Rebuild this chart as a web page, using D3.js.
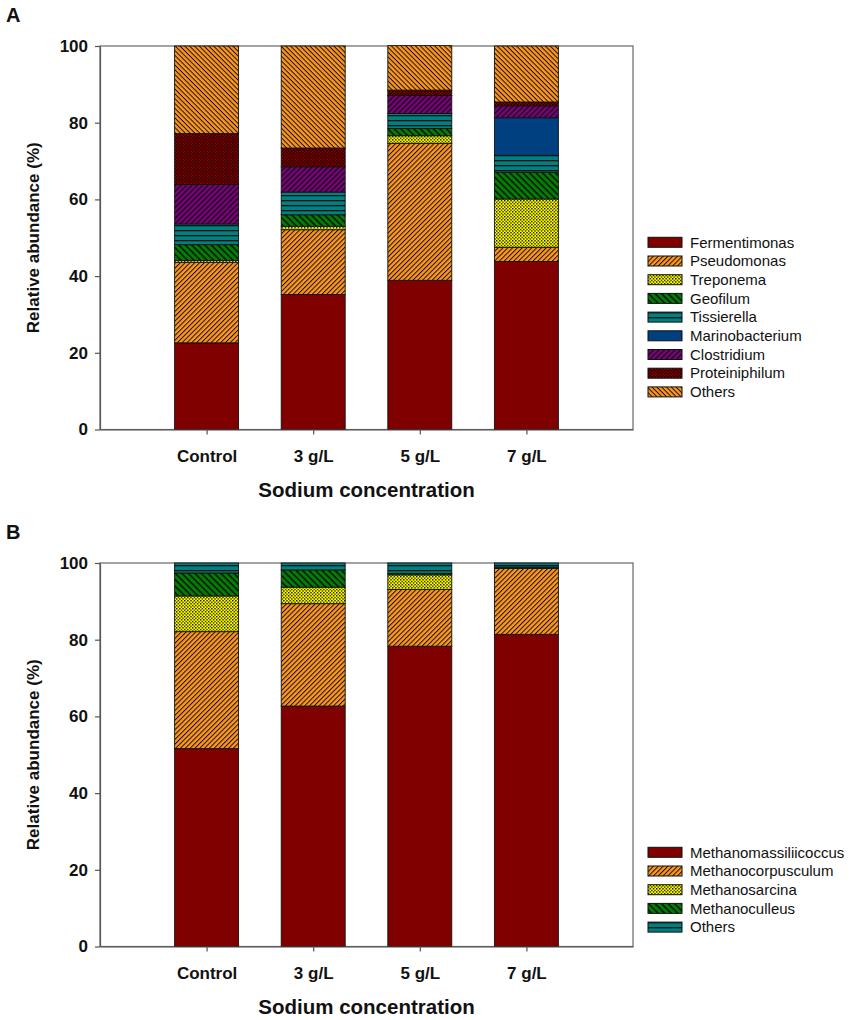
<!DOCTYPE html>
<html>
<head>
<meta charset="utf-8">
<script src="https://cdn.jsdelivr.net/npm/d3@7"></script>
<style>
  body { margin: 0; background: #fff; }
  svg { font-family: "Liberation Sans", Arial, sans-serif; }
</style>
</head>
<body>
<div id="chart"></div>
<script>
// categories (x axis)
var categories = ["Control", "3 g/L", "5 g/L", "7 g/L"];
var yTicks = [0, 20, 40, 60, 80, 100];

// panel A - bacteria (% relative abundance, bottom to top)
var bacteriaNames = ["Fermentimonas", "Pseudomonas", "Treponema", "Geofilum", "Tissierella",
                     "Marinobacterium", "Clostridium", "Proteiniphilum", "Others"];
var fermentimonas   = [22.6, 35.2, 38.9, 43.8];
var pseudomonas     = [21.0, 16.9, 35.7, 3.7];
var treponema       = [0.5, 0.9, 2.0, 12.6];
var geofilum        = [4.1, 3.0, 1.9, 7.0];
var tissierella     = [5.4, 5.9, 3.9, 4.4];
var marinobacterium = [0, 0, 0, 9.8];
var clostridium     = [10.3, 6.6, 4.7, 3.1];
var proteiniphilum  = [13.3, 4.9, 1.4, 1.0];
var othersA         = [22.8, 26.6, 11.6, 14.6];

// panel B - archaea
var archaeaNames = ["Methanomassiliicoccus", "Methanocorpusculum", "Methanosarcina", "Methanoculleus", "Others"];
var methanomassiliicoccus = [51.6, 62.7, 78.3, 81.4];
var methanocorpusculum    = [30.5, 26.7, 14.8, 17.2];
var methanosarcina        = [9.3, 4.3, 3.8, 0];
var methanoculleus        = [6.0, 4.5, 0.4, 0.3];
var othersB               = [2.6, 1.8, 2.7, 1.1];

var seriesA = [fermentimonas, pseudomonas, treponema, geofilum, tissierella,
               marinobacterium, clostridium, proteiniphilum, othersA];
var seriesB = [methanomassiliicoccus, methanocorpusculum, methanosarcina, methanoculleus, othersB];

// fill styles (pattern type + background colour)
var fillA = [
  {bg: "#800000", type: "solid"},
  {bg: "#ff961e", type: "fwd", gap: 3.4, w: 1},
  {bg: "#ffff00", type: "dots"},
  {bg: "#008000", type: "back", gap: 4.6, w: 1.6},
  {bg: "#008080", type: "hline", gap: 5, w: 1.3},
  {bg: "#004080", type: "solid"},
  {bg: "#800080", type: "fwd", gap: 3.8, w: 1.4},
  {bg: "#800000", type: "dots"},
  {bg: "#ff961e", type: "back", gap: 3.4, w: 1}
];
var fillB = [fillA[0], fillA[1], fillA[2], fillA[3], fillA[4]];

var W = 857, H = 1020;
var svg = d3.select("#chart").append("svg")
  .attr("width", W).attr("height", H);
var defs = svg.append("defs");

function makePattern(id, f) {
  if (f.type === "solid") return f.bg;
  var p;
  if (f.type === "dots") {
    var s = 3.2;
    p = defs.append("pattern").attr("id", id)
      .attr("patternUnits", "userSpaceOnUse").attr("width", s).attr("height", s);
    p.append("rect").attr("width", s).attr("height", s).attr("fill", f.bg);
    p.append("rect").attr("x", 0).attr("y", 0).attr("width", 1.3).attr("height", 1.3).attr("fill", "#000");
    p.append("rect").attr("x", s / 2).attr("y", s / 2).attr("width", 1.3).attr("height", 1.3).attr("fill", "#000");
  } else {
    var rot = f.type === "fwd" ? -45 : (f.type === "back" ? 45 : 0);
    p = defs.append("pattern").attr("id", id)
      .attr("patternUnits", "userSpaceOnUse").attr("width", 10).attr("height", f.gap)
      .attr("patternTransform", "rotate(" + rot + ")");
    p.append("rect").attr("width", 10).attr("height", f.gap).attr("fill", f.bg);
    p.append("rect").attr("y", 0).attr("width", 10).attr("height", f.w).attr("fill", "#111");
  }
  return "url(#" + id + ")";
}

function drawPanel(opt) {
  var left = 100, right = 633, top = opt.top, bottom = opt.top + 383.5;

  var x = d3.scalePoint().domain(categories).range([left, right]).padding(1);
  var y = d3.scaleLinear().domain([0, 100]).range([bottom, top]);
  var barW = x.step() * 0.6;

  var g = svg.append("g");

  // frame
  g.append("rect")
    .attr("x", left).attr("y", top)
    .attr("width", right - left).attr("height", bottom - top)
    .attr("fill", "none").attr("stroke", "#666").attr("stroke-width", 1.2);

  // stacked bars
  var rows = categories.map(function(c, i) {
    var r = {cat: c};
    opt.names.forEach(function(n, k) { r[n] = opt.series[k][i]; });
    return r;
  });
  var stack = d3.stack().keys(opt.names)(rows);
  var fills = opt.fills.map(function(f, k) { return makePattern(opt.id + k, f); });

  g.selectAll("g.layer").data(stack).enter().append("g")
    .attr("class", "layer")
    .attr("fill", function(d, k) { return fills[k]; })
    .selectAll("rect").data(function(d) { return d; }).enter()
    .filter(function(d) { return d[1] - d[0] > 0; })
    .append("rect")
      .attr("x", function(d) { return x(d.data.cat) - barW / 2; })
      .attr("y", function(d) { return y(d[1]); })
      .attr("width", barW)
      .attr("height", function(d) { return y(d[0]) - y(d[1]); })
      .attr("stroke", "#111").attr("stroke-width", 0.9);

  // axes
  var yAxis = d3.axisLeft(y).tickValues(yTicks).tickSize(5).tickSizeOuter(0).tickPadding(7);
  var ya = g.append("g").attr("transform", "translate(" + left + ",0)").call(yAxis);
  var xAxis = d3.axisBottom(x).tickSize(5).tickSizeOuter(0).tickPadding(15.5);
  var xa = g.append("g").attr("transform", "translate(0," + bottom + ")").call(xAxis);
  [ya, xa].forEach(function(a) {
    a.selectAll("path, line").attr("stroke", "#555").attr("stroke-width", 1.2);
    a.selectAll("text").attr("font-size", 17).attr("font-weight", "bold")
      .attr("fill", "#111").attr("font-family", '"Liberation Sans", Arial, sans-serif');
  });

  // titles
  g.append("text")
    .attr("transform", "translate(39," + ((top + bottom) / 2) + ") rotate(-90)")
    .attr("text-anchor", "middle")
    .attr("font-size", 17).attr("font-weight", "bold").attr("fill", "#111")
    .text("Relative abundance (%)");
  g.append("text")
    .attr("x", (left + right) / 2 - 0).attr("y", bottom + 67.5)
    .attr("text-anchor", "middle")
    .attr("font-size", 20.5).attr("font-weight", "bold").attr("fill", "#111")
    .text("Sodium concentration");
  g.append("text")
    .attr("x", 6).attr("y", top - 24)
    .attr("font-size", 20).attr("font-weight", "bold").attr("fill", "#111")
    .text(opt.letter);

  // legend
  var lg = g.append("g").attr("transform", "translate(648," + opt.legendTop + ")");
  var item = lg.selectAll("g").data(opt.names).enter().append("g")
    .attr("transform", function(d, k) { return "translate(0," + (k * 18.7) + ")"; });
  item.append("rect")
    .attr("x", 0).attr("y", -5).attr("width", 34).attr("height", 10)
    .attr("fill", function(d, k) { return fills[k]; })
    .attr("stroke", "#111").attr("stroke-width", 1);
  item.append("text")
    .attr("x", 42).attr("y", 0).attr("dy", "0.35em")
    .attr("font-size", 15).attr("fill", "#111")
    .text(function(d) { return d; });
}

drawPanel({id: "pa", letter: "A", top: 46, names: bacteriaNames, series: seriesA,
           fills: fillA, legendTop: 242.3});
drawPanel({id: "pb", letter: "B", top: 563, names: archaeaNames, series: seriesB,
           fills: fillB, legendTop: 852.3});
</script>
</body>
</html>
